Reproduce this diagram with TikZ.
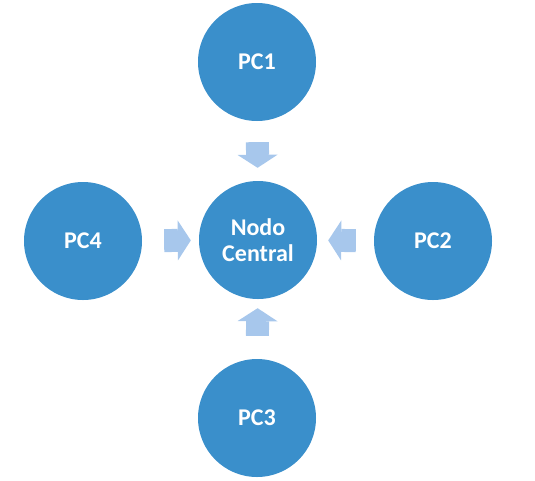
\documentclass[tikz,border=0pt]{standalone}
\usepackage{fontspec}
\setmainfont{Carlito}
\usepackage{tikz}
\usetikzlibrary{arrows.meta}
\definecolor{cnodo}{HTML}{3A8FCB}
\definecolor{cflecha}{HTML}{A7C7EC}
\tikzset{
  pcn/.style={circle, fill=cnodo, text=white, minimum size=118pt, inner sep=0pt, font=\fontsize{24}{26}\selectfont\bfseries, align=center},
  flecha/.style={draw=cflecha, line width=23pt, -{Triangle[length=13pt, width=40pt, line width=0pt]}},
}
\begin{document}
\begin{tikzpicture}[x=1pt,y=-1pt]
\useasboundingbox (0,0) rectangle (535,480);
% ---------------- nodos
\node[pcn] (pc1) at (257,62) {PC1};
\node[pcn] (nc) at (258,240) {Nodo\\Central};
\node[pcn] (pc4) at (83,241) {PC4};
\node[pcn] (pc2) at (433,241) {PC2};
\node[pcn] (pc3) at (257,418) {PC3};
% ---------------- flechas
\draw[flecha, shorten <=21pt, shorten >=13pt] (pc1) -- (nc);
\draw[flecha, shorten <=22pt, shorten >=8pt] (pc4) -- (nc);
\draw[flecha, shorten <=18pt, shorten >=11pt] (pc2) -- (nc);
\draw[flecha, shorten <=23pt, shorten >=9pt] (pc3) -- (nc);
\end{tikzpicture}
\end{document}
